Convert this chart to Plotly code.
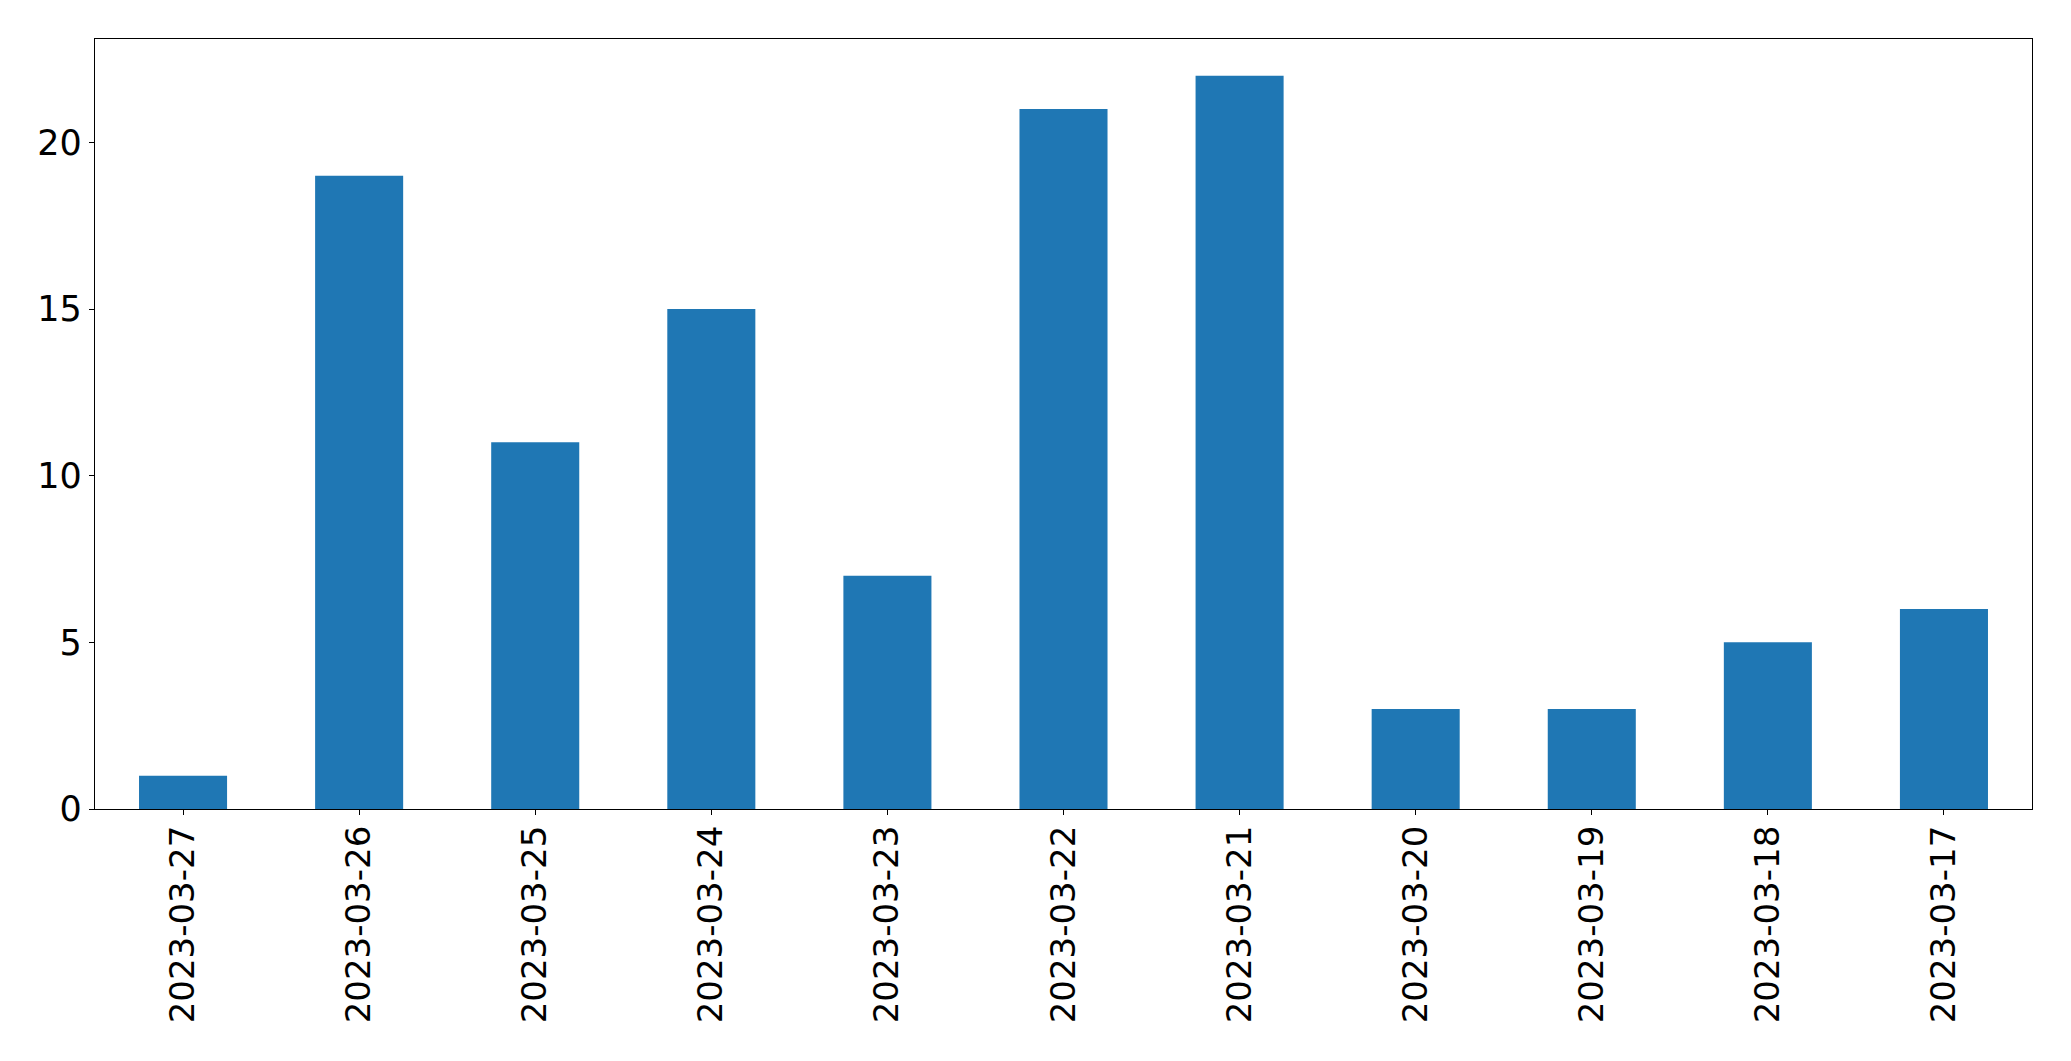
import plotly.graph_objects as go

dates = ["2023-03-27", "2023-03-26", "2023-03-25", "2023-03-24", "2023-03-23",
         "2023-03-22", "2023-03-21", "2023-03-20", "2023-03-19", "2023-03-18", "2023-03-17"]
counts = [1, 19, 11, 15, 7, 21, 22, 3, 3, 5, 6]

fig = go.Figure(go.Bar(x=dates, y=counts, width=0.5, marker=dict(color="#1f77b4", line=dict(width=0))))

fig.update_layout(
    width=2071, height=1061,
    margin=dict(l=95, r=39, t=39, b=252),
    paper_bgcolor="white", plot_bgcolor="white",
    font=dict(family="DejaVu Sans", size=34, color="black"),
    showlegend=False,
)
fig.update_xaxes(type="category", range=[-0.5, 10.5], tickangle=-90,
                 showline=True, linecolor="black", linewidth=1.3, mirror=True,
                 ticks="outside", ticklen=5, tickwidth=1.3, tickcolor="black",
                 ticklabelstandoff=-3,
                 showgrid=False, zeroline=False, tickfont=dict(size=34))
fig.update_yaxes(range=[0, 23.1], tickvals=[0, 5, 10, 15, 20],
                 showline=True, linecolor="black", linewidth=1.3, mirror=True,
                 ticks="outside", ticklen=5, tickwidth=1.3, tickcolor="black",
                 showgrid=False, zeroline=False, tickfont=dict(size=35))

fig.write_html("out.html", config={"displayModeBar": False},
               post_script="document.body.style.margin='0';document.body.style.overflow='hidden';")
